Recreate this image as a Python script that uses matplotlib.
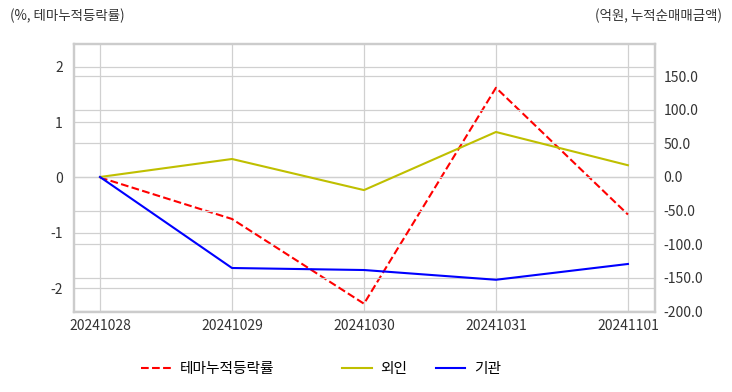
import numpy as np
import matplotlib.pyplot as plt
from matplotlib.ticker import FormatStrFormatter

plt.rcParams['font.family'] = ['Noto Sans CJK KR', 'DejaVu Sans']
plt.rcParams['axes.unicode_minus'] = False

#%% data
dates = ['20241028', '20241029', '20241030', '20241031', '20241101']
theme = [0.0, -0.75, -2.28, 1.62, -0.67]      # %, left axis
foreign = [0.0, 26.8, -19.5, 67.0, 17.5]       # 억원, right axis
inst = [0.0, -135.5, -138.5, -153.0, -129.5]   # 억원, right axis

#%% plot
fig = plt.figure(figsize=(7.32, 3.92), dpi=100)
ax = fig.add_axes([74/732, 1-312/392, 581/732, 268/392])
ax2 = ax.twinx()

xx = np.arange(len(dates))
l1, = ax.plot(xx, theme, '--', color='#ff0000', lw=1.5, label='테마누적등락률')
l2, = ax2.plot(xx, foreign, color='#bfbf00', lw=1.5, label='외인')
l3, = ax2.plot(xx, inst, color='#0000ff', lw=1.5, label='기관')

ax.set_xlim(-0.197, 4.205)
ax.set_ylim(-2.43, 2.41)
ax2.set_ylim(-201, 198)
ax.set_xticks(xx)
ax.set_xticklabels(dates)
ax.set_yticks([-2, -1, 0, 1, 2])
ax2.set_yticks([-200, -150, -100, -50, 0, 50, 100, 150])
ax2.yaxis.set_major_formatter(FormatStrFormatter('%.1f'))

grid_c = '#d0d0d0'
ax.grid(True, color=grid_c, lw=0.9)
ax2.grid(True, axis='y', color=grid_c, lw=0.9)
ax.set_axisbelow(True)
for a in (ax, ax2):
    for s in a.spines.values():
        s.set_color('#cccccc')
        s.set_linewidth(1.6)
    a.tick_params(length=0, labelsize=10, colors='#333333')
ax.tick_params(axis='y', pad=8)
ax2.tick_params(axis='y', pad=6)
ax.tick_params(axis='x', pad=5)

fig.text(10/732, 1-16/392, '(%, 테마누적등락률)', fontsize=9.7, color='#333333', va='center', ha='left')
fig.text(722/732, 1-16/392, '(억원, 누적순매매금액)', fontsize=9.7, color='#333333', va='center', ha='right')

fig.legend(handles=[l1], loc='center left', bbox_to_anchor=(128/732, 1-369/392),
           frameon=False, fontsize=10.6, handlelength=2.0, handletextpad=0.6)
fig.legend(handles=[l2, l3], loc='center left', bbox_to_anchor=(329/732, 1-369/392),
           frameon=False, fontsize=10.6, ncol=2, handlelength=2.0, handletextpad=0.6,
           columnspacing=1.9)

plt.savefig('out.png', dpi=100)
